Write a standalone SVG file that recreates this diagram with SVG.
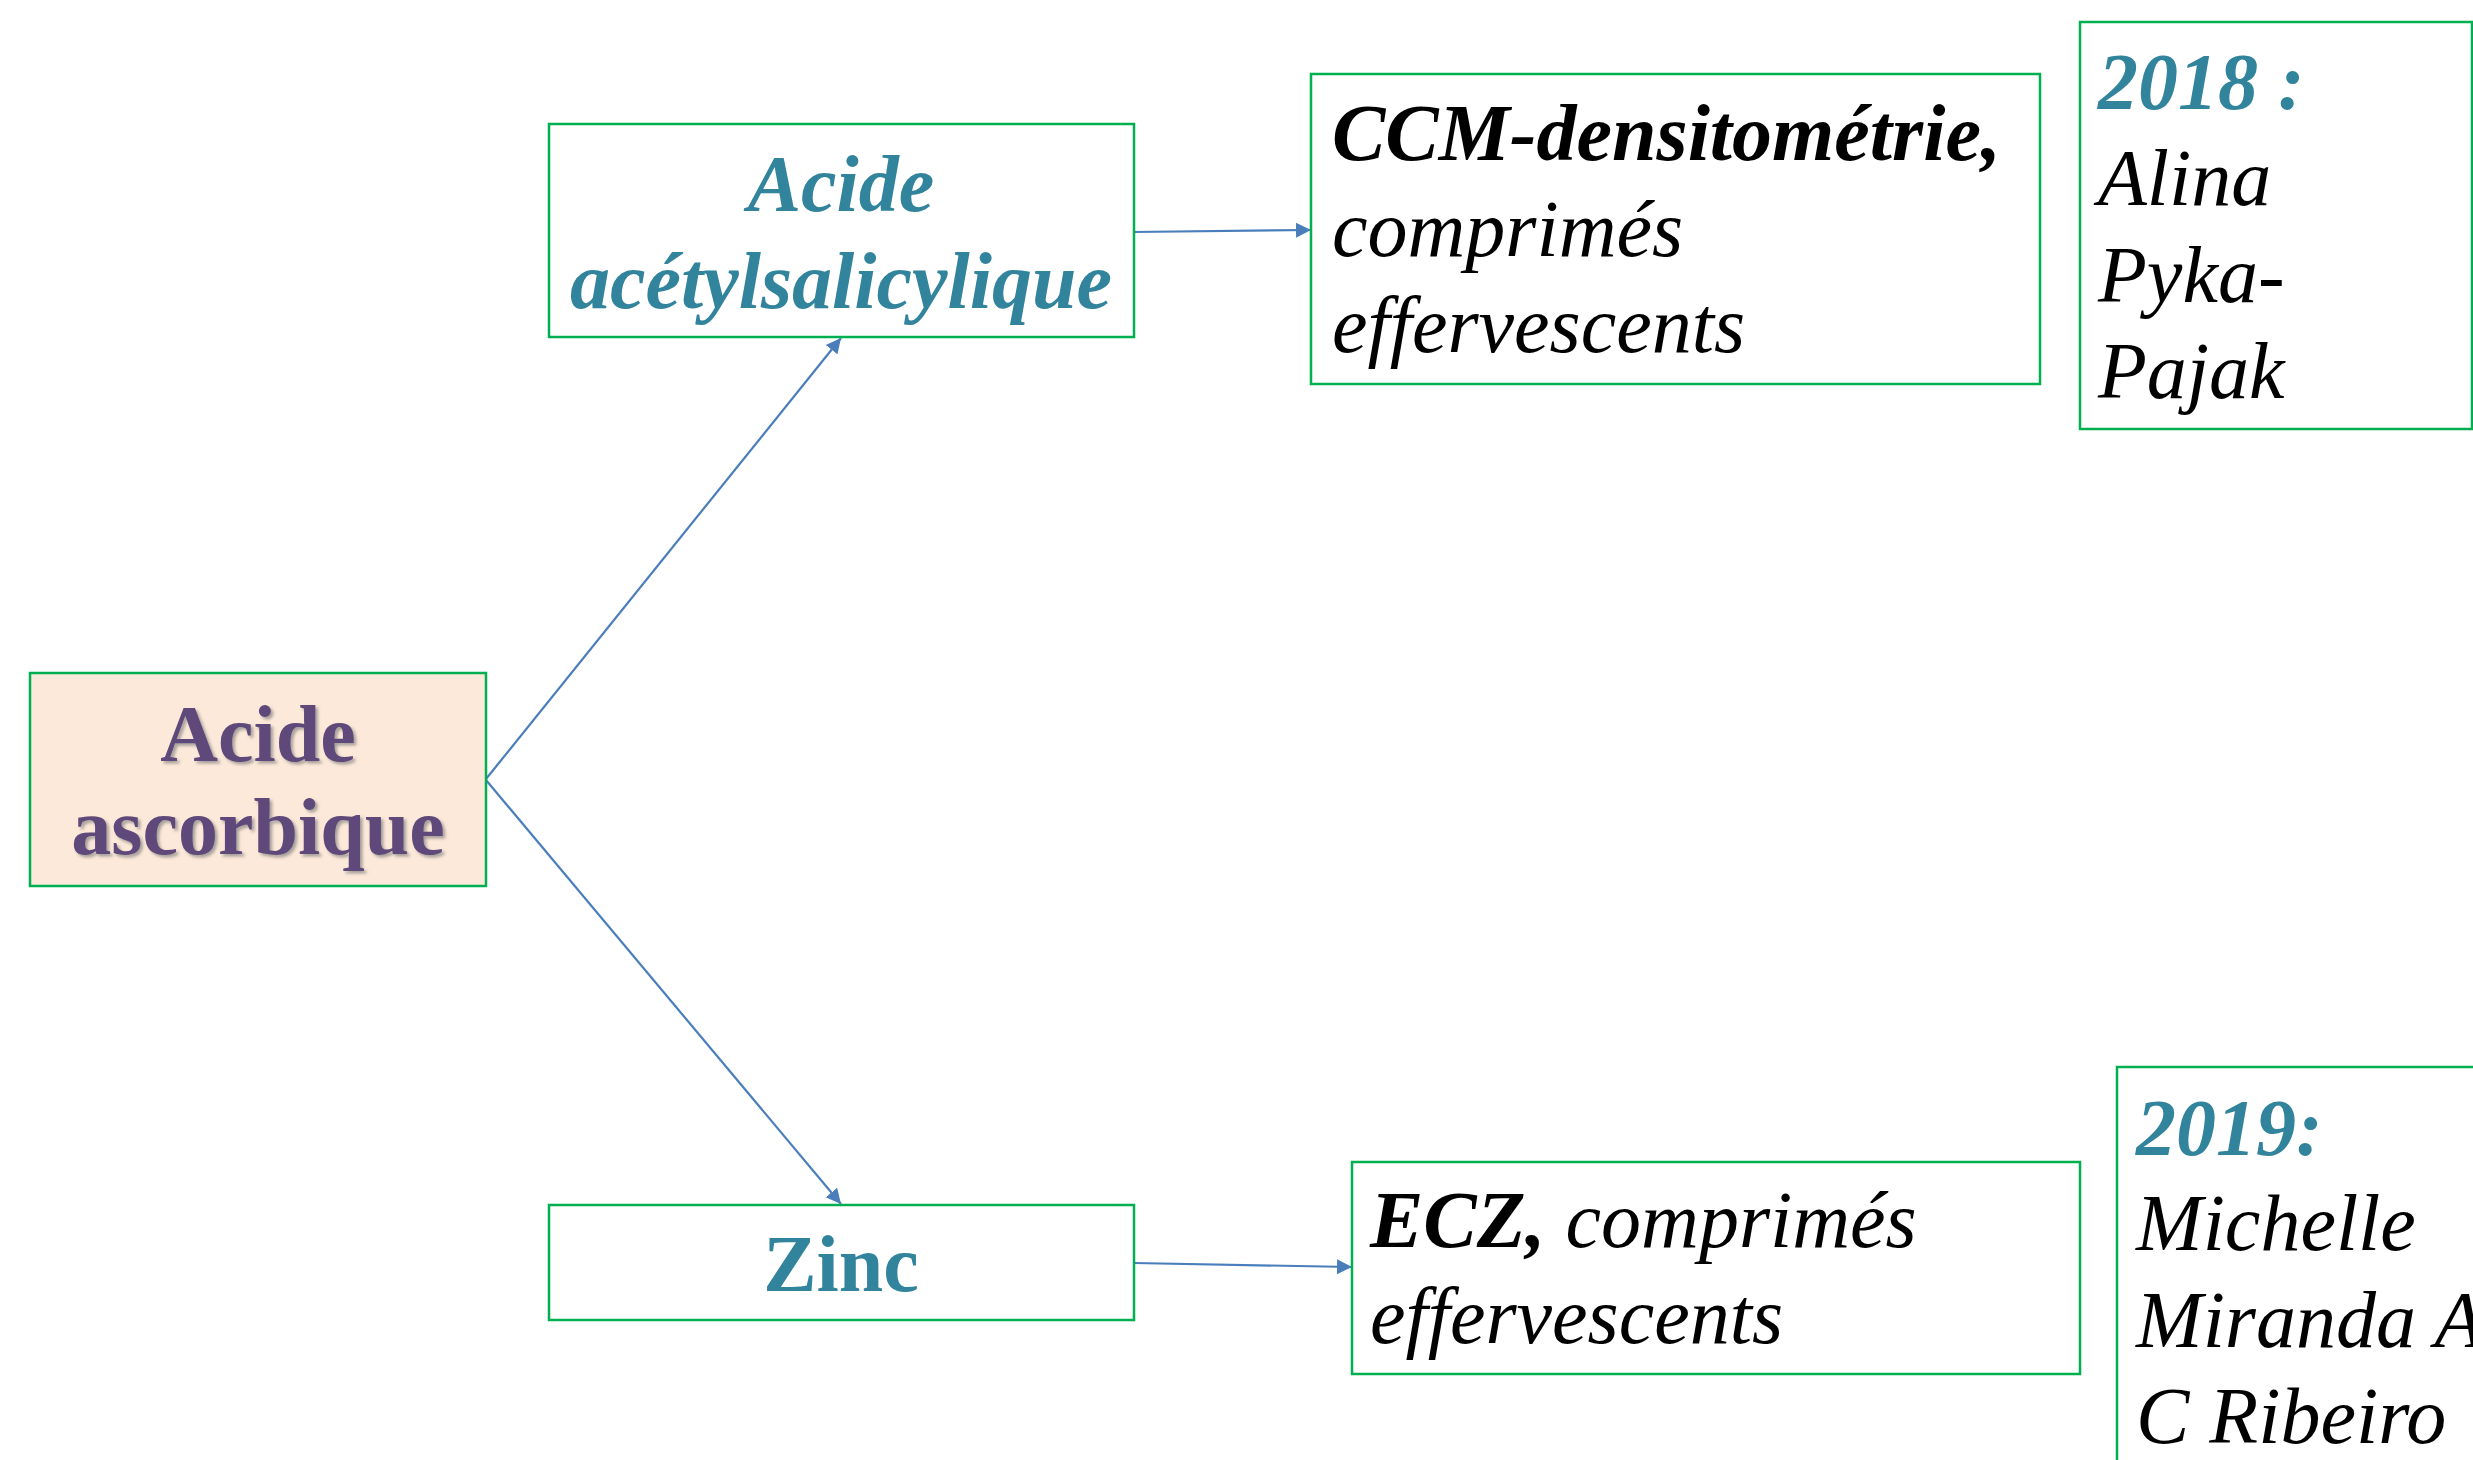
<svg xmlns="http://www.w3.org/2000/svg" width="2473" height="1460" viewBox="0 0 2473 1460">
  <style>
    .box { fill: #FFFFFF; stroke: #00B050; stroke-width: 2.5; }
    .root { fill: #FDE9D9; stroke: #00B050; stroke-width: 2.5; }
    .t { font-family: "Liberation Serif", "Times New Roman", serif; font-size: 80px; }
    .purple { fill: #5F497A; font-weight: bold; }
    .teal { fill: #31849B; font-weight: bold; }
    .it { font-style: italic; }
    .ink { fill: #000000; }
    .b { font-weight: bold; }
    .link { stroke: #4A7EBB; stroke-width: 2.2; fill: none; marker-end: url(#arrow); }
  </style>
  <defs>
    <marker id="arrow" markerUnits="userSpaceOnUse" markerWidth="16" markerHeight="16" viewBox="0 0 16 16" refX="15" refY="8" orient="auto">
      <path d="M0,0.5 L15,8 L0,15.5 Z" fill="#4A7EBB"/>
    </marker>
    <filter id="shadow" x="-10%" y="-10%" width="120%" height="130%">
      <feDropShadow dx="2.5" dy="2.5" stdDeviation="1.5" flood-color="#7F7F7F" flood-opacity="0.7"/>
    </filter>
  </defs>

  <rect width="2473" height="1460" fill="#FFFFFF"/>

  <!-- connectors -->
  <g id="connectors">
    <path class="link" d="M486,779 L841,338"/>
    <path class="link" d="M486,780 L841,1204"/>
    <path class="link" d="M1134,232 L1311,230"/>
    <path class="link" d="M1134,1263 L1352,1267"/>
  </g>

  <!-- root node -->
  <g id="acide-ascorbique">
    <rect class="root" x="30" y="673" width="456" height="213"/>
    <g filter="url(#shadow)">
      <text class="t purple" x="258" y="761" text-anchor="middle">Acide</text>
      <text class="t purple" x="258" y="854" text-anchor="middle">ascorbique</text>
    </g>
  </g>

  <!-- upper branch -->
  <g id="acide-acetylsalicylique">
    <rect class="box" x="549" y="124" width="585" height="213"/>
    <text class="t teal it" x="841" y="211" text-anchor="middle">Acide</text>
    <text class="t teal it" x="841" y="308" text-anchor="middle">acétylsalicylique</text>
  </g>

  <g id="ccm-densitometrie">
    <rect class="box" x="1311" y="74" width="729" height="310"/>
    <text class="t it ink" x="1332" y="160"><tspan class="b">CCM-densitométrie,</tspan></text>
    <text class="t it ink" x="1332" y="256">comprimés</text>
    <text class="t it ink" x="1332" y="352">effervescents</text>
  </g>

  <g id="ref-2018">
    <rect class="box" x="2080" y="22" width="392" height="407"/>
    <text class="t teal it" x="2098" y="109">2018 :</text>
    <text class="t it ink" x="2098" y="205">Alina</text>
    <text class="t it ink" x="2098" y="302">Pyka-</text>
    <text class="t it ink" x="2098" y="398">Pajak</text>
  </g>

  <!-- lower branch -->
  <g id="zinc">
    <rect class="box" x="549" y="1205" width="585" height="115"/>
    <text class="t teal" x="841" y="1291" text-anchor="middle">Zinc</text>
  </g>

  <g id="ecz">
    <rect class="box" x="1352" y="1162" width="728" height="212"/>
    <text class="t it ink" x="1370" y="1247"><tspan class="b">ECZ,</tspan> comprimés</text>
    <text class="t it ink" x="1370" y="1343">effervescents</text>
  </g>

  <g id="ref-2019">
    <rect class="box" x="2117" y="1067" width="420" height="450"/>
    <text class="t teal it" x="2136" y="1155">2019:</text>
    <text class="t it ink" x="2136" y="1250">Michelle</text>
    <text class="t it ink" x="2136" y="1347">Miranda A</text>
    <text class="t it ink" x="2136" y="1443">C Ribeiro</text>
  </g>
</svg>
